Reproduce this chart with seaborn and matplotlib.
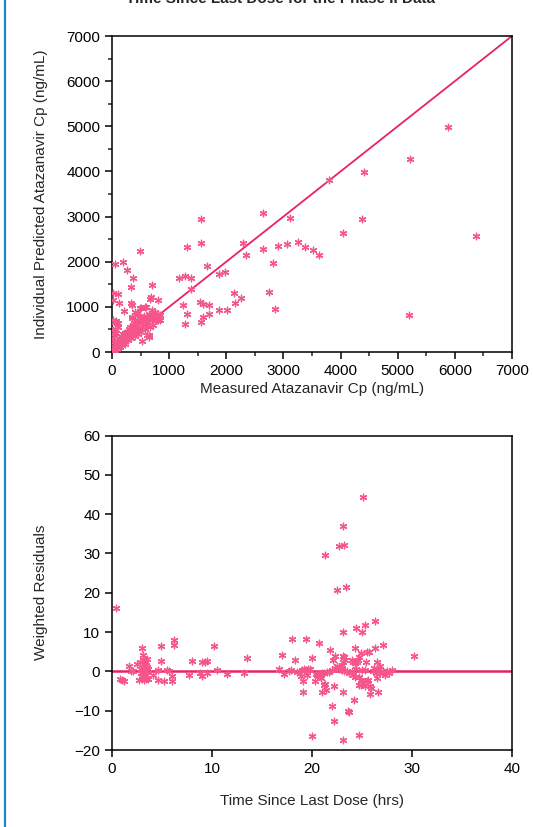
import numpy as np
import pandas as pd
import matplotlib
matplotlib.use("Agg")
import matplotlib.pyplot as plt
import seaborn as sns
from matplotlib.lines import Line2D
from matplotlib.ticker import MultipleLocator

# ---------------- data ----------------
title_text = "Time Since Last Dose for the Phase II Data"

measured_cp = [
    5880, 5210, 4410, 3800, 2650, 3120, 4370, 4040, 6370, 5200,
    2290, 2640, 2900, 3060, 3260, 3370, 3510, 3630,
    1560, 490, 50, 200, 270, 360, 330, 700,
    1320, 1560, 1670, 1180, 1270, 1380, 1390, 1870, 1970, 2350, 2810,
    20, 110, 20, 125, 335, 355, 215, 490, 590, 670, 685, 800, 345, 435, 550,
    1240, 1320, 1280, 1545, 1590, 1700, 1560, 1600, 1690, 1880, 2010, 2130, 2160, 2250, 2740, 2850,
    20, 55, 80, 20, 110, 710, 840, 810, 640, 520,
    400, 440, 500, 580, 700, 65, 100, 345, 510, 610, 725, 785, 840, 610, 640,
    30, 50, 60, 80, 90, 100, 110, 120, 130, 140, 150, 160, 170, 180, 190, 200,
    210, 220, 230, 240, 250, 260, 270, 280, 290, 300, 310, 320, 330, 340, 350,
    360, 370, 380, 390, 400, 410, 420, 430, 440, 450, 460, 470, 480, 490, 500,
    520, 540, 560, 580, 600, 620, 640, 660, 680, 700, 720, 740, 760, 780, 800, 820,
    10, 20, 15, 25, 40, 60, 45, 70, 35,
]
predicted_cp = [
    4980, 4280, 3980, 3800, 3070, 2960, 2940, 2630, 2570, 820,
    2410, 2290, 2350, 2390, 2440, 2330, 2270, 2150,
    2940, 2240, 1945, 2000, 1820, 1650, 1430, 1480,
    2320, 2410, 1900, 1650, 1680, 1650, 1390, 1720, 1770, 2140, 1970,
    1300, 1280, 1150, 1085, 1090, 1035, 910, 980, 1000, 1175, 1210, 1150, 770, 860, 760,
    1040, 840, 620, 1100, 1060, 1040, 660, 770, 840, 930, 930, 1300, 1080, 1190, 1320, 950,
    710, 670, 650, 490, 560, 600, 820, 710, 370, 250,
    890, 820, 970, 990, 930, 695, 650, 745, 745, 745, 820, 785, 710, 380, 330,
    60, 120, 30, 200, 150, 80, 250, 180, 300, 120, 220, 350, 280, 150, 400, 320,
    240, 180, 420, 350, 300, 450, 380, 260, 500, 420, 350, 560, 300, 480, 400,
    600, 520, 440, 650, 350, 560, 480, 700, 600, 520, 400, 640, 560, 760, 450,
    680, 600, 800, 520, 720, 640, 850, 560, 780, 700, 820, 760, 880, 700, 850, 780,
    20, 50, 300, 400, 250, 500, 350, 420, 170,
]

time_since_dose = [
    0.4, 0.8, 0.97, 1.2, 1.67, 1.87, 2.1, 2.47,
    2.97, 3.13, 3.07, 2.8, 2.73, 2.97, 3.2, 2.9, 3.0, 3.1, 3.2, 3.3, 3.4, 3.5, 3.35, 3.4, 3.6, 3.0, 3.2, 3.5, 3.25, 2.85, 3.6,
    4.1, 4.6, 4.6, 4.9, 4.9, 5.2, 5.5, 5.7, 6.0, 6.0, 6.2, 6.2,
    7.7, 8.0, 8.8, 9.0, 9.0, 9.3, 9.5, 9.5, 10.2, 10.5, 11.5, 13.2, 13.5,
    16.7, 17.0, 17.2, 17.7, 17.9, 18.0, 18.3, 18.9, 19.0, 19.2, 19.1, 19.1, 19.4, 19.4, 19.8, 20.0, 20.0, 20.3,
    20.4, 20.6, 20.8, 20.9, 20.7, 21.0, 21.3, 21.0, 21.2, 21.4, 21.3, 21.2, 21.8, 22.0, 22.1, 22.3, 22.2, 22.2,
    22.5, 22.7, 23.2, 23.1, 23.4, 23.1, 23.1, 23.1, 23.6,
    25.1, 24.4, 25.3, 26.3, 25.0, 27.1, 26.3, 24.3, 25.5, 25.7, 30.2, 23.1, 23.2, 24.9, 24.7, 24.6, 24.0, 24.1,
    24.3, 24.5, 25.4, 26.5, 26.8, 26.2,
    22.7, 22.9, 23.0, 23.2, 23.5, 23.7, 23.0, 23.1, 23.3, 24.0, 24.1, 24.3, 24.4, 24.7, 24.9, 25.1, 25.3, 24.9,
    24.7, 25.5, 25.6, 25.8, 25.9, 25.8, 26.6, 24.2, 23.7, 24.7,
    26.1, 26.4, 26.7, 26.8, 27.1, 27.3, 27.5, 27.7, 28.0, 26.5, 25.3, 25.0, 22.0, 22.3, 22.5, 21.5, 21.7,
    20.5, 19.6, 18.5, 19.5,
]
weighted_residuals = [
    16.1, -1.9, -2.1, -2.5, 1.45, 0.0, 0.2, 2.0,
    5.9, 4.2, 3.0, 2.3, -2.1, -1.9, -2.1, 0.5, 1.2, -0.5, 0.8, 3.0, 1.5, 1.0, -1.0, -1.9, -1.9, -1.2, 2.0, 3.2, 0.2, -0.3, 0.5,
    -0.8, 0.4, -2.1, 6.5, 2.7, -2.4, 0.3, 0.2, -1.1, -2.5, 8.1, 6.8,
    -0.8, 2.7, -0.3, -1.3, 2.3, 2.5, 2.7, -0.3, 6.4, 0.4, -0.6, -0.3, 3.4,
    0.7, 4.2, -0.6, 0.2, 0.4, 8.3, 3.0, -1.1, 0.4, 0.6, -2.5, -5.2, 8.3, 0.4, 0.6, 3.5, -16.4, -2.5,
    -0.6, -0.8, -1.3, -1.7, 7.2, -5.2, 29.7, -0.3, -0.3, -4.7, -3.1, -3.4, 5.5, -8.7, 3.0, 4.0, -12.5, -3.6,
    20.8, 32.0, 32.2, 37.1, 21.5, 10.0, -5.2, -17.4, -10.2,
    44.4, 11.0, 11.8, 12.8, 10.0, 6.7, 6.0, 6.0, 5.0, 5.0, 4.0, 4.0, 3.6, 4.7, 3.6, 2.8, 3.0, 2.3,
    2.1, 2.5, 2.5, 2.4, 1.3, 0.9,
    0.5, 1.2, 0.3, 0.0, 0.1, -0.5, 1.5, 2.5, 2.8, 0.2, -0.8, -1.5, 0.5, -1.5, -2.3, -3.0, -3.6, -3.4,
    -3.4, -2.5, -2.1, -3.8, -4.2, -5.8, -5.3, -7.3, -10.3, -16.2,
    0.2, -0.5, 0.6, -0.3, 0.2, -0.8, 0.0, -0.3, 0.4, -1.6, 0.3, 0.3, 0.3, 0.8, 1.3, -0.2, -0.2,
    -0.8, 0.5, -0.2, -1.0,
]

identity_line = [0, 7000]
zero_line_x = [0, 40]
zero_line_y = [0, 0]

# ---------------- style ----------------
sns.set_style("ticks")
plt.rcParams["font.family"] = ["Liberation Sans", "DejaVu Sans"]
plt.rcParams["font.size"] = 11

point_color = "#f5558a"
line_color = "#e8245c"
marker = (6, 2, 0)

fig = plt.figure(figsize=(5.33, 8.27), dpi=100)
W, H = 533, 827

def add_ax(left, top, right, bottom):
    return fig.add_axes([left / W, 1 - bottom / H, (right - left) / W, (bottom - top) / H])

ax1 = add_ax(112, 36, 512, 352)
ax2 = add_ax(112, 435.5, 512, 750)

df1 = pd.DataFrame({"measured": measured_cp, "predicted": predicted_cp})
df2 = pd.DataFrame({"time": time_since_dose, "wres": weighted_residuals})

sns.lineplot(x=identity_line, y=identity_line, ax=ax1, color=line_color, lw=1.3, zorder=2)
sns.scatterplot(data=df1, x="measured", y="predicted", ax=ax1, marker=marker, s=22,
                color=point_color, linewidth=0.95, zorder=3)
sns.lineplot(x=zero_line_x, y=zero_line_y, ax=ax2, color=line_color, lw=1.8, zorder=2)
sns.scatterplot(data=df2, x="time", y="wres", ax=ax2, marker=marker, s=22,
                color=point_color, linewidth=0.95, zorder=3)

ax1.set_xlim(0, 7000)
ax1.set_ylim(0, 7000)
ax1.xaxis.set_major_locator(MultipleLocator(1000))
ax1.yaxis.set_major_locator(MultipleLocator(1000))
ax1.xaxis.set_minor_locator(MultipleLocator(500))
ax1.yaxis.set_minor_locator(MultipleLocator(500))
ax1.set_xlabel("Measured Atazanavir Cp (ng/mL)")
ax1.set_ylabel("Individual Predicted Atazanavir Cp (ng/mL)")

ax2.set_xlim(0, 40)
ax2.set_ylim(-20, 60)
ax2.xaxis.set_major_locator(MultipleLocator(10))
ax2.yaxis.set_major_locator(MultipleLocator(10))
ax2.set_xlabel("Time Since Last Dose (hrs)")
ax2.set_ylabel("Weighted Residuals")

for ax in (ax1, ax2):
    for s in ax.spines.values():
        s.set_visible(True)
        s.set_linewidth(1.1)
        s.set_color("black")
    ax.tick_params(which="major", direction="out", length=5, width=1.1, labelsize=11, colors="black")
    ax.tick_params(which="minor", direction="out", length=3, width=1.1)
    ax.yaxis.set_label_coords(-0.16, 0.5)

ax1.xaxis.set_label_coords(0.5, -0.095)
ax2.xaxis.set_label_coords(0.5, -0.14)

fig.text(281 / W, 1 - 3 / H, title_text, ha="center", va="baseline",
         fontsize=11, fontweight="bold")

fig.add_artist(Line2D([5 / W, 5 / W], [0, 1], transform=fig.transFigure,
                      color="#1b84cc", lw=1.6))

fig.savefig("out.png", dpi=100)
